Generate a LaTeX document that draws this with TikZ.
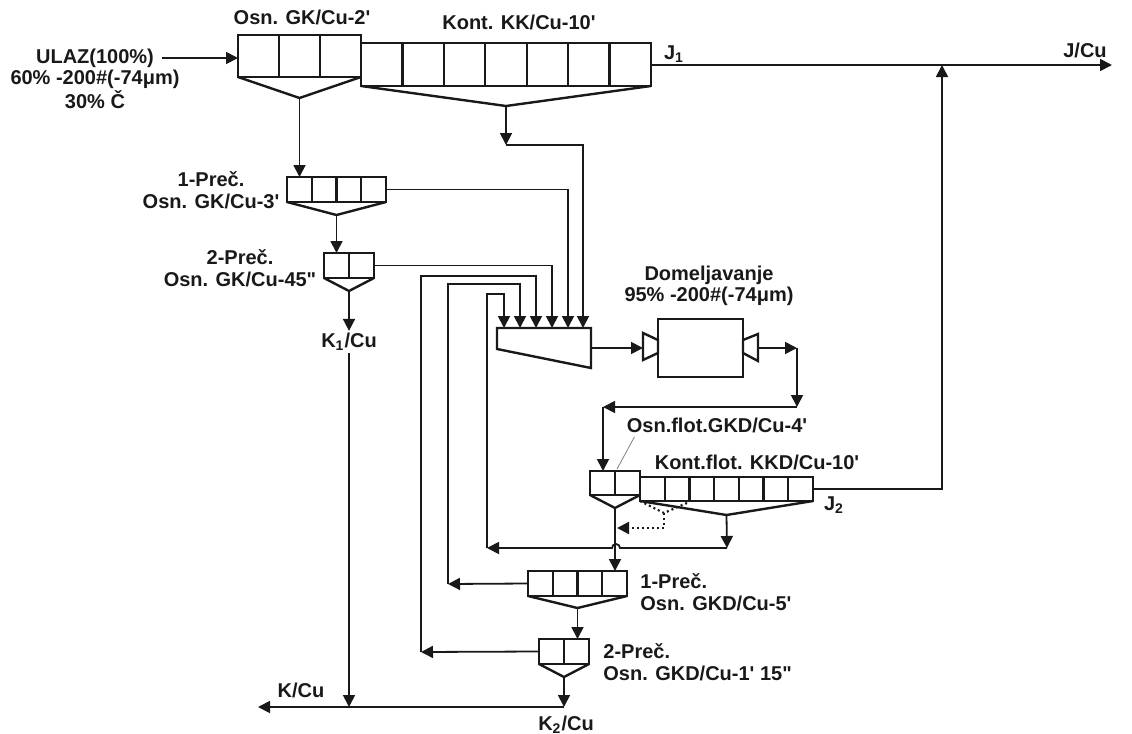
\documentclass[tikz,border=0pt]{standalone}
\usepackage{fontspec}
\setmainfont{Liberation Sans}
\usepackage{tikz}
\usetikzlibrary{arrows.meta}
\definecolor{ink}{RGB}{25,25,25}
\newcommand{\apo}{\textquotesingle}

\begin{document}
\begin{tikzpicture}[x=0.5pt, y=-0.5pt, >={Triangle[length=6pt,width=6pt]},
    bank/.style = {draw=ink, line width=1.2pt, inner sep=0pt, outer sep=0pt},
    cell/.style = {draw=ink, line width=1.2pt},
    flow/.style = {draw=ink, line width=0.9pt},
    dotline/.style = {draw=ink, line width=1.1pt, dash pattern=on 1pt off 1.5pt},
    lbl/.style = {font=\fontsize{10}{10.8}\selectfont\bfseries, text=ink, inner sep=1pt}]
  \useasboundingbox (0,0) rectangle (1132,734);

  % flotation banks: name / left / top / right / bottom / cells / funnel tip
  \foreach \nm/\xa/\ya/\xb/\yb/\nc/\ap in {gk/238/35/361/77/3/98, kk/361/43/651/86/7/106,
      p1/287/177/386/202/4/215, p2/324/253/374/278/2/291,
      gkd/590/471/640/495/2/508, kkd/640/477/813/501/7/515,
      q1/528/571/627/596/4/608, q2/539/639/589/664/2/677}{
    \node[bank, anchor=north west, minimum width={(\xb-\xa)*0.5pt},
      minimum height={(\yb-\ya)*0.5pt}] (\nm) at (\xa,\ya) {};
    \pgfmathtruncatemacro{\ncut}{\nc-1}
    \foreach \k in {1,...,\ncut}{
      \pgfmathsetmacro{\xk}{\xa+\k*(\xb-\xa)/\nc}
      \draw[cell] (\xk,\ya) -- (\xk,\yb);
    }
    \coordinate (\nm-a) at ({(\xa+\xb)/2},\ap);
    \draw[cell] (\nm.south west) -- (\nm-a) -- (\nm.south east);
  }

  % classifier and mill
  \draw[cell] (497,328) -- (591,328) -- (591,368) -- (497,349) -- cycle;
  \coordinate (mx-out) at (591,348);
  \foreach \i/\x in {1/504,2/520,3/536,4/552,5/568,6/583}
    \coordinate (mx\i) at (\x,328);
  \node[bank, anchor=north west, minimum width=42.5pt, minimum height=29pt] (mill) at (658,319) {};
  \draw[cell] (643,333) -- (658,340) -- (658,353) -- (643,360) -- cycle;
  \draw[cell] (743,340) -- (758,334) -- (758,361) -- (743,353) -- cycle;
  \coordinate (mill-in) at (643,348);
  \coordinate (mill-out) at (758,348);

  % labels
  \node[lbl, align=center] (ulaz) at (95,79) {ULAZ(100\%)\\60\% -200\#(-74μm)\\30\% Č};
  \coordinate (ulaz-end) at (162,58);
  \node[lbl] (gk-l) at (302,17) {Osn. GK/Cu-2\apo};
  \node[lbl] (kk-l) at (519,22) {Kont. KK/Cu-10\apo};
  \node[lbl] (j1) at (674,54) {J\textsubscript{1}};
  \node[lbl] (jcu) at (1085,50) {J/Cu};
  \node[lbl, align=center] (p1-l) at (211,190) {1-Preč.\\Osn. GK/Cu-3\apo};
  \node[lbl, align=center] (p2-l) at (240,268) {2-Preč.\\Osn. GK/Cu-45\textquotedbl};
  \node[lbl] (k1) at (349,342) {K\textsubscript{1}/Cu};
  \node[lbl, align=center] (dom) at (709,286) {Domeljavanje\\95\% -200\#(-74μm)};
  \node[lbl] (gkd-l) at (717,425) {Osn.flot.GKD/Cu-4\apo};
  \node[lbl] (kkd-l) at (757,462) {Kont.flot. KKD/Cu-10\apo};
  \node[lbl] (j2) at (834,505) {J\textsubscript{2}};
  \node[lbl, align=left, anchor=west] (q1-l) at (638,592) {1-Preč.\\Osn. GKD/Cu-5\apo};
  \node[lbl, align=left, anchor=west] (q2-l) at (601,662) {2-Preč.\\Osn. GKD/Cu-1\apo{} 15\textquotedbl};
  \node[lbl] (kcu) at (301,690) {K/Cu};
  \node[lbl] (k2) at (566,725) {K\textsubscript{2}/Cu};

  % corner points
  \coordinate (j-out) at (1112,65);
  \coordinate (j-up) at (942,65);
  \coordinate (kt) at (506,145);
  \coordinate (kt2) at (727,548);
  \coordinate (r0) at (487,548);
  \coordinate (r1) at (448,584);
  \coordinate (r2) at (421,652);
  \coordinate (kb) at (349,707);
  \coordinate (kc) at (564,707);
  \coordinate (k-out) at (258,707);
  \coordinate (mo) at (797,348);
  \coordinate (md) at (797,407);
  \coordinate (ml) at (603,407);

  % first line
  \draw[flow,->] (ulaz-end) -- (gk.west |- ulaz-end);
  \draw[flow,->] (kk.east |- j-out) -- (j-out);
  \draw[flow,->] (gk-a) -- (gk-a |- p1.north);
  \draw[flow,->] (p1-a) -- (p1-a |- p2.north);
  \draw[flow,->] (p2-a) -- (k1.north);
  \draw[flow,->] (k1.south) -- (kb);
  \draw[flow,->] (kk-a) -- (kt);
  \draw[flow,->] (kt) -| (mx6);
  \draw[flow,->] (p1.east) -| (mx5);
  \draw[flow,->] (p2.east) -| (mx4);

  % regrinding
  \draw[flow,->] (mx-out) -- (mill-in);
  \draw[flow,->] (mill-out) -- (mo);
  \draw[flow,->] (mo) -- (md);
  \draw[flow,->] (md) -- (ml);
  \draw[flow,->] (ml) -- (ml |- gkd.north);

  % second line
  \draw[flow,->] (kkd.east) -| (j-up);
  \draw[flow,->] (gkd-a) -- (gkd-a |- q1.north);
  \draw[flow,->] (q1-a) -- (q1-a |- q2.north);
  \draw[flow,->] (q2-a) -- (kc);
  \draw[flow,->] (kc) -- (k-out);
  \draw[flow,->] (kkd-a) -- (kt2);
  \draw[flow,->] (kt2) -- (620,548) arc[start angle=0, end angle=180, radius=2pt] -- (r0);
  \draw[flow,->] (r0) -- (487,294) -| (mx1);
  \draw[flow,->] (q1.west) -- (r1);
  \draw[flow,->] (r1) -- (448,284) -| (mx2);
  \draw[flow,->] (q2.west) -- (r2);
  \draw[flow,->] (r2) -- (421,276) -| (mx3);

  % dotted return
  \draw[dotline] (640,501) -- (664,513) -- (687,503);
  \draw[dotline,->] (664,513) -- (664,528) -- (617,528);
  \draw[gray, line width=0.4pt] (gkd-l.south west) ++(10,2) -- (617,469);
\end{tikzpicture}
\end{document}
